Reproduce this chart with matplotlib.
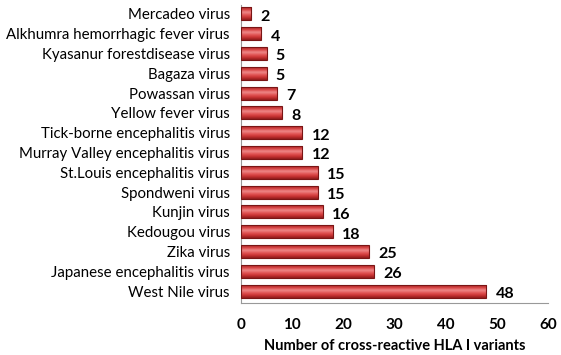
import numpy as np
import matplotlib.pyplot as plt
from matplotlib.colors import LinearSegmentedColormap

plt.rcParams['font.family'] = ['Lato', 'DejaVu Sans']

viruses = ['West Nile virus', 'Japanese encephalitis virus', 'Zika virus', 'Kedougou virus',
           'Kunjin virus', 'Spondweni virus', 'St.Louis encephalitis virus',
           'Murray Valley encephalitis virus', 'Tick-borne encephalitis virus',
           'Yellow fever virus', 'Powassan virus', 'Bagaza virus',
           'Kyasanur forestdisease virus', 'Alkhumra hemorrhagic fever virus', 'Mercadeo virus']
counts = [48, 26, 25, 18, 16, 15, 15, 12, 12, 8, 7, 5, 5, 4, 2]
xticks = [0, 10, 20, 30, 40, 50, 60]

fig = plt.figure(figsize=(5.61, 3.55), dpi=100)
ax = fig.add_axes([0.4296, 0.1465, 0.547, 0.8394])

# 柱子渐变色（模拟立体效果）
cmap = LinearSegmentedColormap.from_list('bar3d', ['#8E1C1C', '#C83232', '#E25555', '#EE8A8A', '#D84545', '#A82525'])
grad = np.linspace(0, 1, 64).reshape(-1, 1)
h = 0.65
ypos = np.arange(len(viruses))
for y, v in zip(ypos, counts):
    ax.imshow(grad, aspect='auto', cmap=cmap, extent=[0, v, y - h / 2, y + h / 2],
              origin='lower', interpolation='bicubic', zorder=2)
    ax.barh(y, v, height=h, color='none', edgecolor='#7A1515', linewidth=0.8, zorder=3)
    ax.text(v + 1.8, y - 0.15, str(v), va='center', ha='left', fontsize=11.5, fontweight='bold')

ax.set_xlim(0, 60)
ax.set_ylim(-0.6, 14.45)
ax.set_yticks(ypos)
ax.set_yticklabels(viruses, fontsize=10.8)
ax.set_xticks(xticks)
ax.set_xticklabels([str(t) for t in xticks], fontsize=11, fontweight='bold')
ax.tick_params(axis='both', length=0)
ax.tick_params(axis='x', pad=11)
ax.tick_params(axis='y', pad=8)
for s in ['top', 'right']:
    ax.spines[s].set_visible(False)
ax.spines['left'].set_color('#999999')
ax.spines['bottom'].set_color('#999999')
ax.set_xlabel('Number of cross-reactive HLA I variants', fontsize=10.5, fontweight='bold', labelpad=5)

fig.savefig('out.png', dpi=100)
